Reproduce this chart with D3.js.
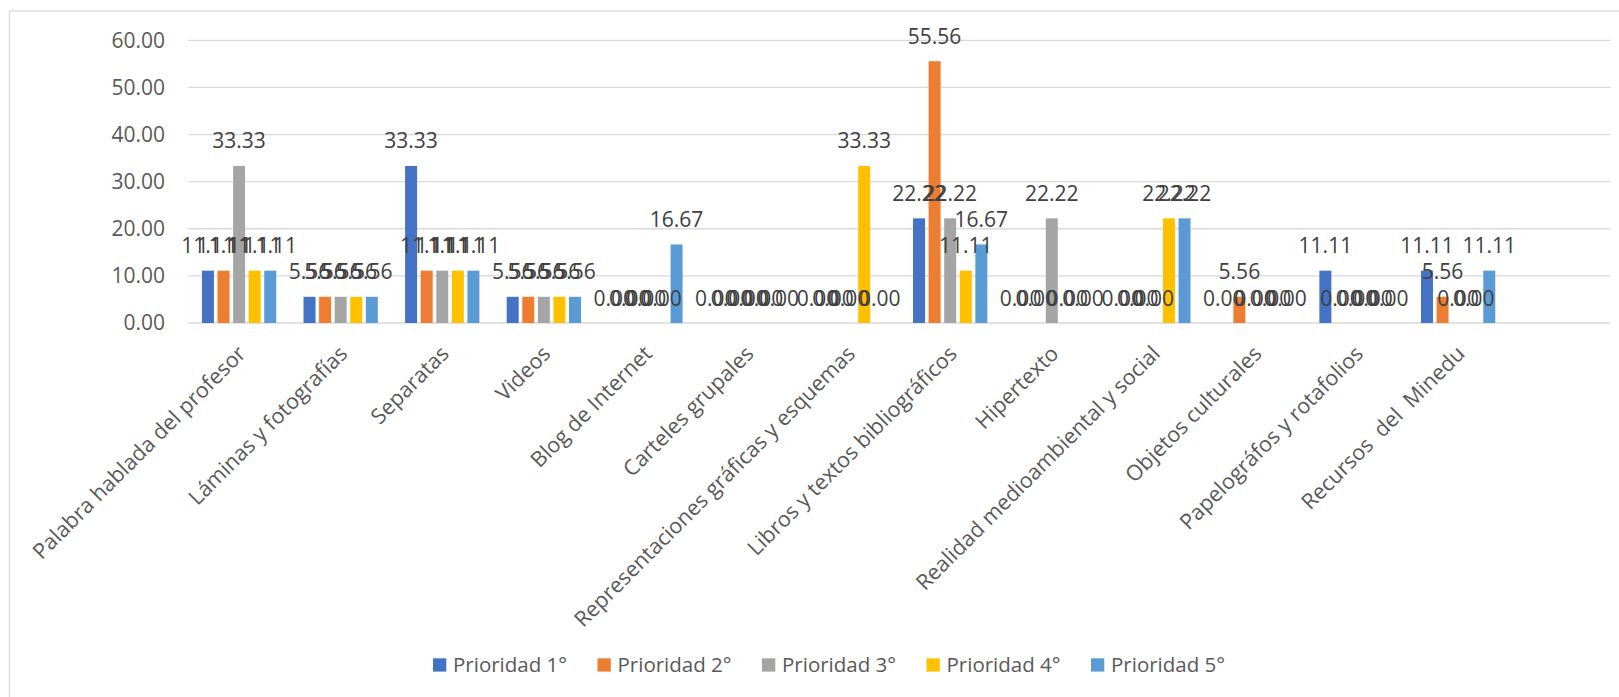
<!DOCTYPE html>
<html><head><meta charset="utf-8">
<script src="https://cdn.jsdelivr.net/npm/d3@7"></script>
<style>html,body{margin:0;padding:0;background:#fff;overflow:hidden}</style>
</head><body>
<svg id="c" width="1619" height="697"></svg>
<script>
const categories = ["Palabra hablada del profesor","Láminas y fotografías","Separatas","Videos","Blog de Internet","Carteles grupales","Representaciones gráficas y esquemas","Libros y textos bibliográficos","Hipertexto","Realidad medioambiental y social","Objetos culturales","Papelográfos y rotafolios","Recursos  del  Minedu",""];
const seriesNames = ["Prioridad 1°","Prioridad 2°","Prioridad 3°","Prioridad 4°","Prioridad 5°"];
const p1 = [11.11, 5.56, 33.33, 5.56, 0, 0, 0, 22.22, 0, 0, 0, 11.11, 11.11];
const p2 = [11.11, 5.56, 11.11, 5.56, 0, 0, 0, 55.56, 0, 0, 5.56, 0, 5.56];
const p3 = [33.33, 5.56, 11.11, 5.56, 0, 0, 0, 22.22, 22.22, 0, 0, 0, 0];
const p4 = [11.11, 5.56, 11.11, 5.56, 0, 0, 33.33, 11.11, 0, 22.22, 0, 0, 0];
const p5 = [11.11, 5.56, 11.11, 5.56, 16.67, 0, 0, 16.67, 0, 22.22, 0, 0, 11.11];
const yTicks = [0, 10, 20, 30, 40, 50, 60];
const colors = ["#4472C4","#ED7D31","#A5A5A5","#FFC000","#5B9BD5"];

const seriesValues = [p1, p2, p3, p4, p5];
const FONT = "'Open Sans', 'Noto Sans', sans-serif";
const TXT = "#595959";

const svg = d3.select("#c");
svg.append("rect").attr("x",9.5).attr("y",11).attr("width",1700).attr("height",800)
  .attr("fill","#fff").attr("stroke","#d9d9d9").attr("stroke-width",1.3);

const pLeft = 188.3, pRight = 1610.5, pTop = 40.3, pBottom = 323;
const x0 = d3.scaleBand().domain(categories).range([pLeft, pRight]).padding(0);
const y = d3.scaleLinear().domain([0, 60]).range([pBottom, pTop]);
const bw = x0.bandwidth();
const groupW = bw * 0.802;
const x1 = d3.scaleBand().domain(seriesNames).range([(bw-groupW)/2, (bw+groupW)/2]).padding(0.23);

// gridlines
svg.append("g").selectAll("line").data(yTicks).join("line")
  .attr("x1", pLeft).attr("x2", pRight)
  .attr("y1", d => y(d)).attr("y2", d => y(d))
  .attr("stroke", "#d9d9d9").attr("stroke-width", 1.3);

// y tick labels
svg.append("g").selectAll("text").data(yTicks).join("text")
  .attr("x", 165).attr("y", d => y(d)).attr("dy", "0.35em")
  .attr("text-anchor", "end").attr("font-family", FONT).attr("font-size", 21)
  .attr("fill", TXT).text(d => d3.format(".2f")(d));

// bars
const data = [];
seriesValues.forEach((vals, si) => vals.forEach((v, ci) => data.push({s: seriesNames[si], si, c: categories[ci], v})));
svg.append("g").selectAll("rect").data(data).join("rect")
  .attr("x", d => x0(d.c) + x1(d.s)).attr("width", x1.bandwidth())
  .attr("y", d => y(d.v)).attr("height", d => y(0) - y(d.v))
  .attr("fill", d => colors[d.si]);

// value labels
svg.append("g").selectAll("text").data(data).join("text")
  .attr("x", d => x0(d.c) + x1(d.s) + x1.bandwidth()/2)
  .attr("y", d => y(d.v) - 17.5)
  .attr("text-anchor", "middle").attr("font-family", FONT).attr("font-size", 21)
  .attr("fill", "#404040").text(d => d3.format(".2f")(d.v));

// x labels
svg.append("g").selectAll("text").data(categories.filter(c => c)).join("text")
  .attr("transform", d => `translate(${x0(d) + bw/2 + 8},${pBottom + 32}) rotate(-45)`)
  .attr("text-anchor", "end").attr("font-family", FONT).attr("font-size", 21.5)
  .attr("fill", TXT).style("white-space", "pre").text(d => d);

// legend
const lg = svg.append("g");
seriesNames.forEach((s, i) => {
  const lx = 433 + i * 164.5;
  lg.append("rect").attr("x", lx).attr("y", 658.3).attr("width", 13.3).attr("height", 13.3).attr("fill", colors[i]);
  lg.append("text").attr("x", lx + 20).attr("y", 665).attr("dy", "0.35em")
    .attr("font-family", FONT).attr("font-size", 20.5).attr("fill", TXT).text(s);
});
</script>
</body></html>
